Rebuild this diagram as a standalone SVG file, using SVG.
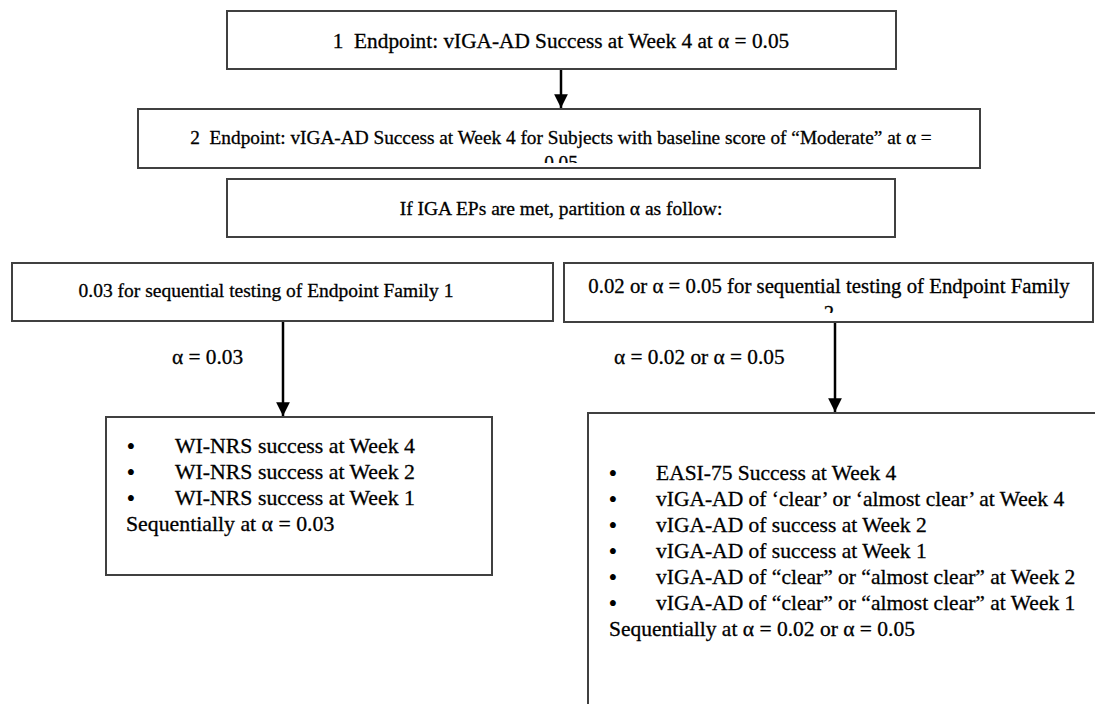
<svg xmlns="http://www.w3.org/2000/svg" width="1095" height="704" viewBox="0 0 1095 704">
<style>
.box{fill:#fff;stroke:#404040;stroke-width:2}
.t{font-family:'Liberation Serif','Times New Roman',serif;fill:#000;stroke:#000;stroke-width:0.3}
.c{text-anchor:middle}
.b{font-family:'Liberation Serif','Times New Roman',serif;font-size:25px;fill:#000;text-anchor:middle}
.conn{stroke:#000;stroke-width:2.5;fill:none}
</style>
<defs>
<marker id="ah" viewBox="0 0 10 10" refX="10" refY="5" markerWidth="5.5" markerHeight="5.5" orient="auto" markerUnits="strokeWidth">
<path d="M0,0 L10,5 L0,10 z" fill="#000"/>
</marker>
<clipPath id="cp2"><rect x="139" y="110" width="840" height="53"/></clipPath>
<clipPath id="cp5"><rect x="565" y="264" width="527" height="49"/></clipPath>
</defs>
<rect width="1095" height="704" fill="#fff"/>
<g id="connectors">
<line class="conn" x1="561" y1="69" x2="561" y2="108" marker-end="url(#ah)"/>
<line class="conn" x1="283" y1="321" x2="283" y2="416" marker-end="url(#ah)"/>
<line class="conn" x1="835" y1="322" x2="835" y2="412" marker-end="url(#ah)"/>
<text class="t" x="172" y="364" style="font-size:21.3px">α = 0.03</text>
<text class="t" x="614" y="364" style="font-size:21.3px">α = 0.02 or α = 0.05</text>
</g>
<g id="n1">
<rect class="box" x="227" y="11" width="669" height="58"/>
<text class="t c" x="561" y="48" style="font-size:21.3px" xml:space="preserve">1  Endpoint: vIGA-AD Success at Week 4 at α = 0.05</text>
</g>
<g id="n2">
<rect class="box" x="138" y="109" width="842" height="59"/>
<g clip-path="url(#cp2)">
<text class="t c" x="561" y="144" style="font-size:19.3px" xml:space="preserve">2  Endpoint: vIGA-AD Success at Week 4 for Subjects with baseline score of “Moderate” at α =</text>
<text class="t c" x="561" y="169" style="font-size:19.3px">0.05</text>
</g>
</g>
<g id="n3">
<rect class="box" x="227" y="179" width="668" height="58"/>
<text class="t c" x="561" y="215" style="font-size:19.5px">If IGA EPs are met, partition α as follow:</text>
</g>
<g id="n4">
<rect class="box" x="12" y="263" width="541" height="58"/>
<text class="t c" x="266" y="297" style="font-size:19.5px">0.03 for sequential testing of Endpoint Family 1</text>
</g>
<g id="n5">
<rect class="box" x="564" y="263" width="529" height="59"/>
<g clip-path="url(#cp5)">
<text class="t c" x="829" y="293" style="font-size:20.8px">0.02 or α = 0.05 for sequential testing of Endpoint Family</text>
<text class="t c" x="829" y="320" style="font-size:20.8px">2</text>
</g>
</g>
<g id="n6">
<rect class="box" x="106" y="417" width="386" height="158"/>
<text class="b" x="131" y="455">•</text><text class="t" x="175" y="453" style="font-size:21.8px">WI-NRS success at Week 4</text>
<text class="b" x="131" y="481">•</text><text class="t" x="175" y="479" style="font-size:21.8px">WI-NRS success at Week 2</text>
<text class="b" x="131" y="507">•</text><text class="t" x="175" y="505" style="font-size:21.8px">WI-NRS success at Week 1</text>
<text class="t" x="126" y="531" style="font-size:21.8px">Sequentially at α = 0.03</text>
</g>
<g id="n7">
<rect class="box" x="588" y="413" width="520" height="300"/>
<text class="b" x="613" y="482">•</text><text class="t" x="656" y="480" style="font-size:21.5px">EASI-75 Success at Week 4</text>
<text class="b" x="613" y="508">•</text><text class="t" x="656" y="506" style="font-size:21.5px">vIGA-AD of ‘clear’ or ‘almost clear’ at Week 4</text>
<text class="b" x="613" y="534">•</text><text class="t" x="656" y="532" style="font-size:21.5px">vIGA-AD of success at Week 2</text>
<text class="b" x="613" y="560">•</text><text class="t" x="656" y="558" style="font-size:21.5px">vIGA-AD of success at Week 1</text>
<text class="b" x="613" y="586">•</text><text class="t" x="656" y="584" style="font-size:21.5px">vIGA-AD of “clear” or “almost clear” at Week 2</text>
<text class="b" x="613" y="612">•</text><text class="t" x="656" y="610" style="font-size:21.5px">vIGA-AD of “clear” or “almost clear” at Week 1</text>
<text class="t" x="609" y="636" style="font-size:21.5px">Sequentially at α = 0.02 or α = 0.05</text>
</g>
</svg>
